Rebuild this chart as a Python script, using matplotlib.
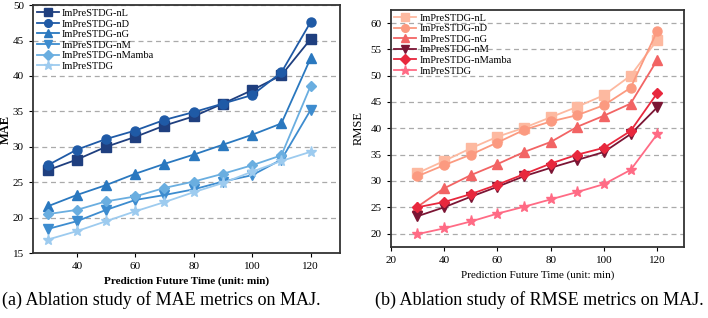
import matplotlib
matplotlib.use("Agg")
import matplotlib.pyplot as plt

plt.rcParams["font.family"] = ["Liberation Serif", "DejaVu Serif"]
plt.rcParams["mathtext.fontset"] = "stix"

x_min = [30, 40, 50, 60, 70, 80, 90, 100, 110, 120]
labels = ["ImPreSTDG-nL", "ImPreSTDG-nD", "ImPreSTDG-nG",
          "ImPreSTDG-nM", "ImPreSTDG-nMamba", "ImPreSTDG"]

# MAE on MAJ
mae_nL = [26.7, 28.2, 30.0, 31.4, 33.0, 34.3, 36.1, 38.0, 40.1, 45.2]
mae_nD = [27.4, 29.6, 31.1, 32.3, 33.8, 34.9, 36.1, 37.3, 40.5, 47.6]
mae_nG = [21.6, 23.2, 24.6, 26.2, 27.6, 28.9, 30.3, 31.7, 33.3, 42.5]
mae_nM = [18.4, 19.5, 21.1, 22.5, 23.2, 24.0, 25.1, 26.0, 28.2, 35.2]
mae_nMamba = [20.5, 21.1, 22.3, 23.0, 24.2, 25.1, 26.2, 27.4, 28.8, 38.6]
mae_full = [16.9, 18.1, 19.5, 20.9, 22.2, 23.6, 24.9, 26.5, 28.0, 29.3]

# RMSE on MAJ
rmse_nL = [31.5, 33.8, 36.2, 38.4, 40.1, 42.1, 44.1, 46.3, 50.0, 56.8]
rmse_nD = [30.9, 33.0, 35.0, 37.3, 39.7, 41.3, 42.5, 44.4, 47.7, 58.5]
rmse_nG = [25.1, 28.6, 31.1, 33.2, 35.5, 37.4, 40.3, 42.4, 44.7, 53.0]
rmse_nM = [23.3, 25.0, 27.0, 28.9, 30.9, 32.5, 34.0, 35.5, 38.9, 44.0]
rmse_nMamba = [25.0, 26.0, 27.5, 29.3, 31.3, 33.3, 35.0, 36.3, 39.5, 46.7]
rmse_full = [19.9, 21.0, 22.3, 23.8, 25.1, 26.5, 27.9, 29.4, 32.1, 38.9]

markers = ["s", "o", "^", "v", "D", "*"]
blues = ["#1f3f7f", "#1f5aa6", "#2a78bf", "#3d8ccf", "#6aaee0", "#9dcbef"]
reds = ["#fdb9a0", "#fb9a80", "#f26464", "#7b1534", "#e8283d", "#ff6b85"]

fig = plt.figure(figsize=(7.08, 3.18), dpi=100)
ax1 = fig.add_axes([0.0466, 0.204, 0.4334, 0.78])
ax2 = fig.add_axes([0.552, 0.224, 0.414, 0.745])


def draw(ax, series, colors):
    for y, lab, m, c in zip(series, labels, markers, colors):
        ms = 8 if m == "*" else (5.5 if m == "D" else 6.5)
        ax.plot(x_min, y, marker=m, color=c, label=lab, lw=1.3, ms=ms)
    ax.set_axisbelow(True)
    ax.yaxis.grid(True, linestyle=(0, (4, 3)), color="#aaaaaa", lw=0.9)
    for s in ax.spines.values():
        s.set_linewidth(1.3)
        s.set_color("#333333")
    ax.tick_params(labelsize=8, direction="out", length=3)
    ax.legend(loc="upper left", fontsize=7.5, frameon=False, markerscale=0.85,
              handlelength=2.1, borderaxespad=0.15, borderpad=0.2,
              labelspacing=0.12, handletextpad=0.3)


draw(ax1, [mae_nL, mae_nD, mae_nG, mae_nM, mae_nMamba, mae_full], blues)
ax1.set_xlim(25, 130)
ax1.set_ylim(15, 50)
ax1.set_xticks([40, 60, 80, 100, 120])
ax1.set_yticks(range(15, 51, 5))
ax1.set_xlabel("Prediction Future Time (unit: min)", fontsize=8, fontweight="bold")
ax1.set_ylabel("MAE", fontsize=9, fontweight="bold")
ax1.yaxis.set_label_coords(-0.068, 0.5)

draw(ax2, [rmse_nL, rmse_nD, rmse_nG, rmse_nM, rmse_nMamba, rmse_full], reds)
ax2.set_xlim(20, 130)
ax2.set_ylim(17.5, 62.5)
ax2.set_xticks([20, 40, 60, 80, 100, 120])
ax2.set_yticks(range(20, 61, 5))
ax2.set_xlabel("Prediction Future Time (unit: min)", fontsize=8)
ax2.set_ylabel("RMSE", fontsize=9)

fig.text(0.228, 0.055, "(a) Ablation study of MAE metrics on MAJ.",
         ha="center", va="center", fontsize=13)
fig.text(0.762, 0.055, "(b) Ablation study of RMSE metrics on MAJ.",
         ha="center", va="center", fontsize=13)

fig.savefig("out.png", dpi=100)
